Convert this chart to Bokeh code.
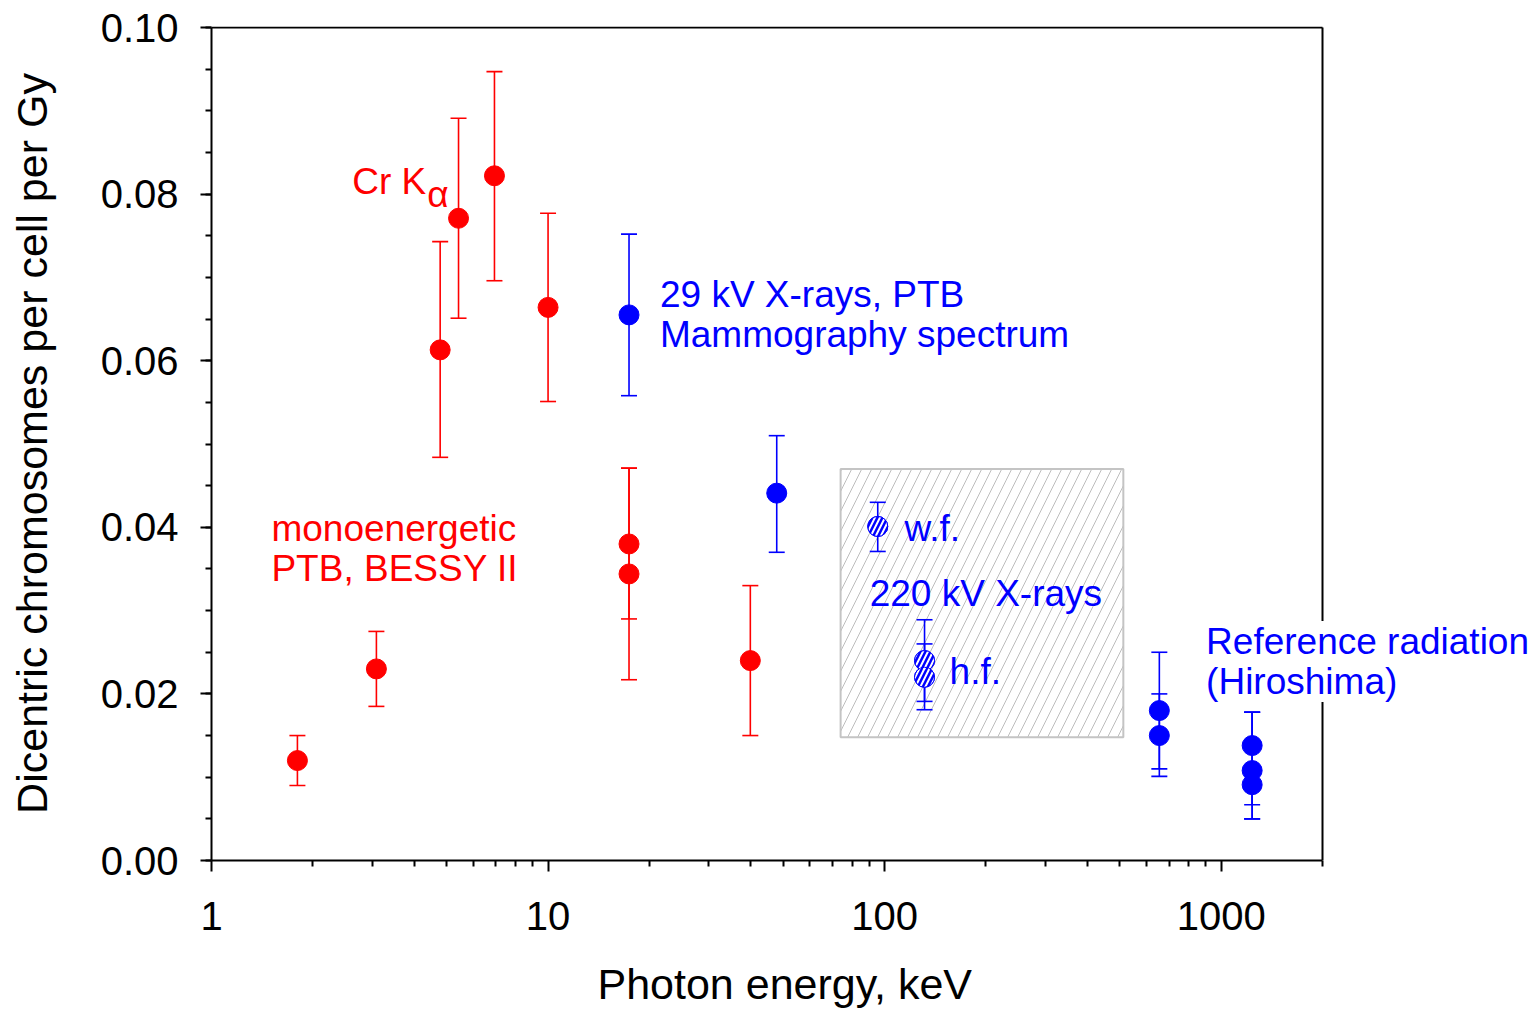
from bokeh.plotting import figure
from bokeh.models import (Label, Title, FixedTicker, SingleIntervalTicker, PrintfTickFormatter,
                          Range1d, ColumnDataSource)
from bokeh.embed import file_html
from bokeh.resources import INLINE

# ---- data (photon energy keV, dicentrics per cell per Gy) ----
red_x = [1.8, 3.09, 4.78, 5.42, 6.93, 10.0, 17.4, 17.4, 39.9]
red_y = [0.0120, 0.0230, 0.0613, 0.0771, 0.0822, 0.0664, 0.0380, 0.0344, 0.0240]
red_lo = [0.0090, 0.0185, 0.0484, 0.0651, 0.0696, 0.0551, 0.0290, 0.0217, 0.0150]
red_hi = [0.0150, 0.0275, 0.0743, 0.0891, 0.0947, 0.0777, 0.0471, 0.0471, 0.0330]

blue_x = [17.4, 47.8, 655, 655, 1236, 1236, 1236]
blue_y = [0.0655, 0.0441, 0.0180, 0.0150, 0.0138, 0.0108, 0.0091]
blue_lo = [0.0558, 0.0370, 0.0110, 0.0101, 0.0067, 0.0050, 0.0050]
blue_hi = [0.0752, 0.0510, 0.0250, 0.0200, 0.0178, 0.0178, 0.0178]

hatch_x = [95.4, 131.4, 131.4]
hatch_y = [0.0401, 0.0240, 0.0220]
hatch_lo = [0.0371, 0.0191, 0.0181]
hatch_hi = [0.0430, 0.0289, 0.0260]

# 220 kV X-ray region
region_x = [74, 512]
region_y = [0.0148, 0.0470]

# axis extents
x_lim = [1, 2000]
y_lim = [0.0, 0.10]
x_major = [1, 10, 100, 1000]
x_minor = [2, 3, 4, 5, 6, 7, 8, 9, 20, 30, 40, 50, 60, 70, 80, 90,
           200, 300, 400, 500, 600, 700, 800, 900, 2000]

RED = "#ff0000"
BLUE = "#0000ff"
FONT = "Liberation Sans"

# the drawing area is 1111 x 833 px; the frame is widened to the canvas edge so that
# the "Reference radiation" text can run past the box
PLOT_W, PLOT_H = 1111, 833
FRAME_W = 1322
x_end = x_lim[1] ** (FRAME_W / PLOT_W)
y_end = y_lim[1] * (PLOT_H + 1) / PLOT_H

p = figure(x_axis_type="log", x_range=Range1d(x_lim[0], x_end), y_range=Range1d(y_lim[0], y_end),
           frame_width=FRAME_W, frame_height=PLOT_H + 1,
           min_border_left=211, min_border_right=0, min_border_top=26, min_border_bottom=152,
           output_backend="svg", toolbar_location=None)
p.background_fill_color = "white"
p.border_fill_color = "white"
p.outline_line_color = None
p.xgrid.visible = False
p.ygrid.visible = False

# box: top and right edges
p.segment(x0=[x_lim[0], x_lim[1]], y0=[y_lim[1], y_lim[0]], x1=[x_lim[1], x_lim[1]], y1=[y_lim[1], y_lim[1]],
          line_color="black", line_width=2)

# hatched region
p.quad(left=[region_x[0]], right=[region_x[1]], bottom=[region_y[0]], top=[region_y[1]],
       fill_color="white", fill_alpha=0, line_color="#c4c4c4", line_width=2,
       hatch_pattern="/", hatch_color="#bdbdbd", hatch_scale=20, hatch_weight=1)

def errbars(xs, ys, lo, hi, color, hatched=False):
    src = ColumnDataSource(dict(x=xs, y=ys, lo=lo, hi=hi))
    p.segment(x0="x", y0="lo", x1="x", y1="hi", source=src, line_color=color, line_width=1.6)
    p.scatter(x="x", y="lo", source=src, marker="dash", size=16, line_color=color, line_width=1.6)
    p.scatter(x="x", y="hi", source=src, marker="dash", size=16, line_color=color, line_width=1.6)
    p.scatter(x="x", y="y", source=src, size=20, fill_color=color, line_color=color)
    if hatched:
        p.scatter(x="x", y="y", source=src, size=20, fill_alpha=0, line_color=color,
                  hatch_pattern="/", hatch_color="white", hatch_scale=10, hatch_weight=2)

errbars(red_x, red_y, red_lo, red_hi, RED)
errbars(blue_x, blue_y, blue_lo, blue_hi, BLUE)
errbars(hatch_x, hatch_y, hatch_lo, hatch_hi, BLUE, hatched=True)

# axes
for ax in (p.xaxis[0], p.yaxis[0]):
    ax.axis_line_color = "black"
    ax.axis_line_width = 2
    ax.major_tick_line_color = "black"
    ax.major_tick_line_width = 2
    ax.minor_tick_line_color = "black"
    ax.minor_tick_line_width = 2
    ax.major_tick_in = 0
    ax.major_tick_out = 11
    ax.minor_tick_in = 0
    ax.minor_tick_out = 6
    ax.major_label_text_font = FONT
    ax.major_label_text_font_size = "40px"
    ax.major_label_text_color = "black"
    ax.axis_label_text_font = FONT
    ax.axis_label_text_font_size = "43px"
    ax.axis_label_text_font_style = "normal"
    ax.axis_label_text_color = "black"

p.xaxis.bounds = (x_lim[0], x_lim[1])
p.yaxis.bounds = (y_lim[0], y_lim[1])
p.xaxis.ticker = FixedTicker(ticks=x_major, minor_ticks=x_minor)
p.xaxis.formatter = PrintfTickFormatter(format="%d")
p.yaxis.ticker = SingleIntervalTicker(interval=0.02, num_minor_ticks=4)
p.yaxis.formatter = PrintfTickFormatter(format="%.2f")
p.yaxis.axis_label = "Dicentric chromosomes per cell per Gy"
p.xaxis.major_label_standoff = 30
p.yaxis.major_label_standoff = 22
p.yaxis.axis_label_standoff = 42

xt = Title(text="Photon energy, keV", align="left", offset=386, text_font=FONT,
           text_font_size="43px", text_font_style="normal", text_color="black", standoff=50)
p.add_layout(xt, "below")

def lab(x, y, text, color, size="37px", bg=None):
    l = Label(x=x, y=y, text=text, text_color=color, text_font=FONT, text_font_size=size,
              text_baseline="alphabetic", text_align="left")
    if bg:
        l.background_fill_color = bg
    p.add_layout(l)
    return l

lab(2.62, 0.0815, "Cr K", RED)
lab(4.375, 0.0800, "α", RED)
lab(1.507, 0.0398, "monoenergetic", RED)
lab(1.507, 0.0350, "PTB, BESSY II", RED)
lab(21.5, 0.0680, "29 kV X-rays, PTB", BLUE)
lab(21.5, 0.0632, "Mammography spectrum", BLUE)
lab(114.6, 0.0398, "w.f.", BLUE)
lab(90.3, 0.0321, "220 kV X-rays", BLUE)
lab(156, 0.0227, "h.f.", BLUE)
lab(902, 0.0263, "Reference radiation", BLUE, bg="white")
lab(902, 0.0215, "(Hiroshima)", BLUE, bg="white")

open("out.html", "w").write(file_html(p, INLINE))
